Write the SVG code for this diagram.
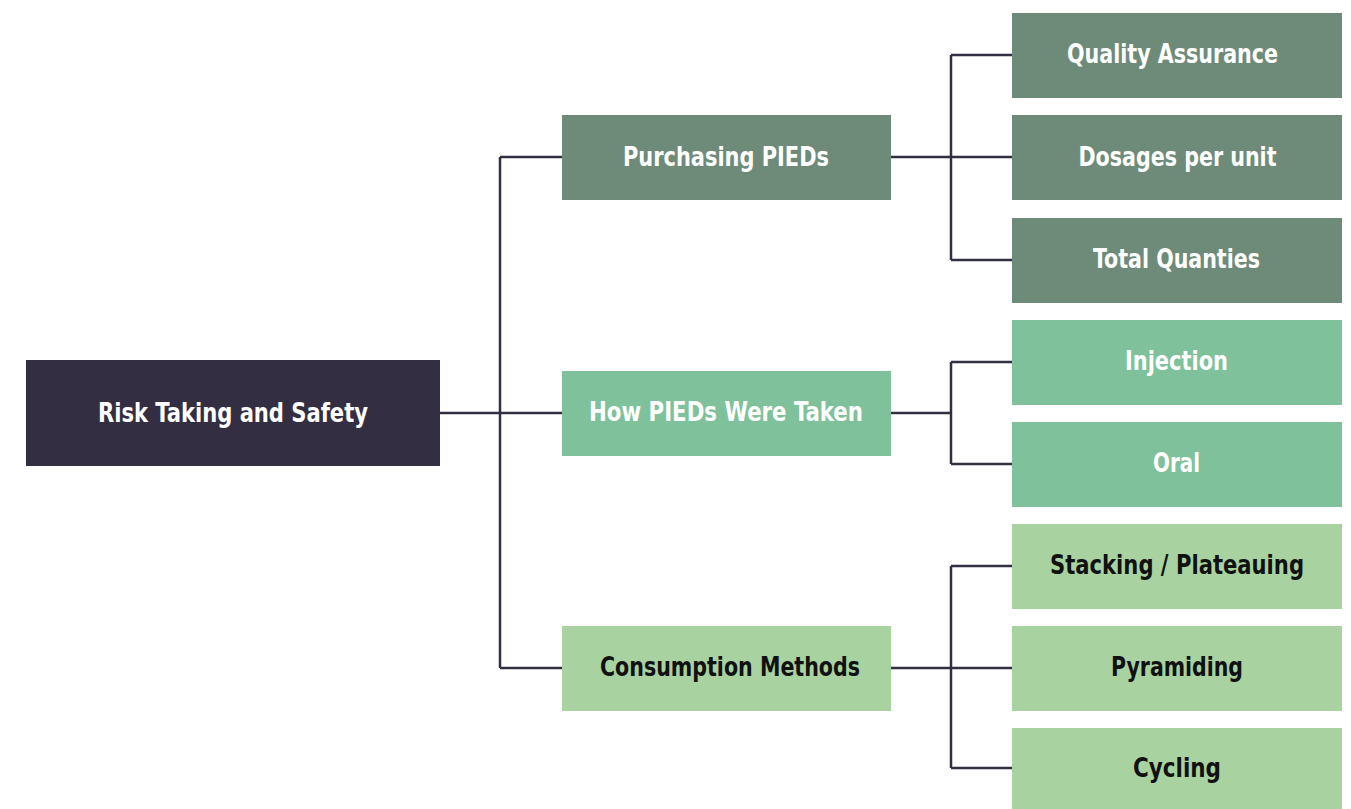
<svg xmlns="http://www.w3.org/2000/svg" width="1351" height="809" viewBox="0 0 1351 809">
<style>
.t{font-family:"DejaVu Sans Condensed","DejaVu Sans","Liberation Sans",sans-serif;font-stretch:condensed;font-weight:bold;font-size:27px;text-anchor:middle;dominant-baseline:central}
.w{fill:#ffffff}
.k{fill:#111111}
.c{fill:none;stroke:#332e42;stroke-width:2.5}
</style>
<rect width="1351" height="809" fill="#ffffff"/>
<g id="connectors">
<path class="c" d="M440 413H500M500 157V668M500 157H562M500 413H562M500 668H562"/>
<path class="c" d="M891 157H1012M951 55V260M951 55H1012M951 260H1012"/>
<path class="c" d="M891 413H951M951 362V464M951 362H1012M951 464H1012"/>
<path class="c" d="M891 668H1012M951 566V768M951 566H1012M951 768H1012"/>
</g>
<g id="root"><rect x="26" y="360" width="414" height="106" fill="#332e42"/><text class="t w" x="233" y="412" textLength="270" lengthAdjust="spacingAndGlyphs">Risk Taking and Safety</text></g>
<g id="purchasing"><rect x="562" y="115" width="329" height="85" fill="#6e8b79"/><text class="t w" x="726" y="156" textLength="206" lengthAdjust="spacingAndGlyphs">Purchasing PIEDs</text></g>
<g id="how"><rect x="562" y="371" width="329" height="85" fill="#7fc19b"/><text class="t w" x="726" y="411" textLength="274" lengthAdjust="spacingAndGlyphs">How PIEDs Were Taken</text></g>
<g id="consumption"><rect x="562" y="626" width="329" height="85" fill="#a8d3a0"/><text class="t k" x="730" y="666" textLength="260" lengthAdjust="spacingAndGlyphs">Consumption Methods</text></g>
<g id="quality"><rect x="1012" y="13" width="330" height="85" fill="#6e8b79"/><text class="t w" x="1172.5" y="53" textLength="211" lengthAdjust="spacingAndGlyphs">Quality Assurance</text></g>
<g id="dosages"><rect x="1012" y="115" width="330" height="85" fill="#6e8b79"/><text class="t w" x="1177.5" y="156" textLength="198" lengthAdjust="spacingAndGlyphs">Dosages per unit</text></g>
<g id="total"><rect x="1012" y="218" width="330" height="85" fill="#6e8b79"/><text class="t w" x="1176.5" y="258" textLength="167" lengthAdjust="spacingAndGlyphs">Total Quanties</text></g>
<g id="injection"><rect x="1012" y="320" width="330" height="85" fill="#7fc19b"/><text class="t w" x="1176.5" y="360" textLength="103" lengthAdjust="spacingAndGlyphs">Injection</text></g>
<g id="oral"><rect x="1012" y="422" width="330" height="85" fill="#7fc19b"/><text class="t w" x="1176.5" y="462" textLength="47" lengthAdjust="spacingAndGlyphs">Oral</text></g>
<g id="stacking"><rect x="1012" y="524" width="330" height="85" fill="#a8d3a0"/><text class="t k" x="1177" y="564" textLength="254" lengthAdjust="spacingAndGlyphs">Stacking / Plateauing</text></g>
<g id="pyramiding"><rect x="1012" y="626" width="330" height="85" fill="#a8d3a0"/><text class="t k" x="1177" y="666" textLength="132" lengthAdjust="spacingAndGlyphs">Pyramiding</text></g>
<g id="cycling"><rect x="1012" y="728" width="330" height="81" fill="#a8d3a0"/><text class="t k" x="1177" y="767" textLength="88" lengthAdjust="spacingAndGlyphs">Cycling</text></g>
</svg>
